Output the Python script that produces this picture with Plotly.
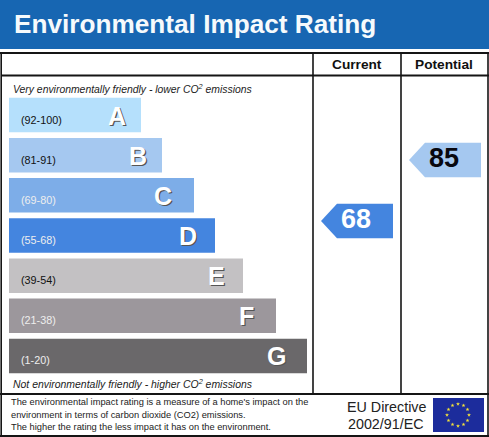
import plotly.graph_objects as go

# ---- data ----
bands = ["A", "B", "C", "D", "E", "F", "G"]
ranges = ["(92-100)", "(81-91)", "(69-80)", "(55-68)", "(39-54)", "(21-38)", "(1-20)"]
bar_lengths = [132, 153, 185, 206, 234, 267, 298]
columns = ["Current", "Potential"]
ratings = [68, 85]

# ---- styles ----
W, H = 489, 437
FONT = "Liberation Sans"
bar_colors = ["#B5E0FC", "#A5C8F0", "#7DADE8", "#4485DF", "#C3C1C3", "#9C979C", "#6A686A"]
range_colors = ["#111", "#111", "#EEE", "#EEE", "#111", "#EEE", "#EEE"]
letter_offsets = [24, 24, 31, 27, 27, 30, 31]
rating_colors = ["#4485DF", "#A5C8F0"]
rating_text = ["white", "#08080F"]
col_left = [321, 409]
ARROW_W, TIP = 72, 16
PX_PER_SCORE = 61 / 17
HALF = 17.3 / PX_PER_SCORE
SCORE_TOP = 85 + 160 / PX_PER_SCORE


def px(x, y):
    return x / W, 1 - y / H


def text(x, y, s, size, color="#111", anchor="left", **kw):
    fx, fy = px(x, y)
    return dict(x=fx, y=fy, xref="paper", yref="paper", text=s, showarrow=False,
                xanchor=anchor, yanchor="middle", align=anchor,
                font=dict(family=FONT, size=size, color=color), **kw)


fig = go.Figure()

fig.add_trace(go.Bar(
    y=bands, x=bar_lengths, orientation="h", marker=dict(color=bar_colors, line_width=0),
    xaxis="x", yaxis="y", hoverinfo="skip", showlegend=False))

# rating arrows on a score axis
for col, score, c, tc, left in zip(columns, ratings, rating_colors, rating_text, col_left):
    xs = [left, left + TIP, left + ARROW_W, left + ARROW_W, left + TIP, left]
    ys = [score, score + HALF, score + HALF, score - HALF, score - HALF, score]
    fig.add_trace(go.Scatter(x=xs, y=ys, mode="lines", fill="toself", fillcolor=c,
                             line=dict(width=0, color=c), xaxis="x2", yaxis="y2",
                             name=col, hoverinfo="skip", showlegend=False))
    fig.add_trace(go.Scatter(x=[left + 35], y=[score], mode="text",
                             text=[str(score)], textposition="middle center",
                             textfont=dict(family=FONT, size=27, color=tc, weight="bold"),
                             xaxis="x2", yaxis="y2", hoverinfo="skip", showlegend=False))

# EU flag stars
star_x = [458, 463.5, 467.5, 469, 467.5, 463.5, 458, 452.5, 448.5, 447, 448.5, 452.5]
star_y = [404, 405.5, 409.5, 415, 420.5, 424.5, 426, 424.5, 420.5, 415, 409.5, 405.5]
fig.add_trace(go.Scatter(x=star_x, y=[SCORE_TOP - s / PX_PER_SCORE for s in star_y], mode="markers",
                         marker=dict(symbol="star", size=3, color="#F4E23A", line_width=0),
                         xaxis="x2", yaxis="y2", hoverinfo="skip", showlegend=False))

shapes = []


def rect(x0, y0, x1, y1, color):
    a, b = px(x0, y0), px(x1, y1)
    shapes.append(dict(type="rect", xref="paper", yref="paper", x0=a[0], y0=a[1], x1=b[0], y1=b[1],
                       fillcolor=color, line_width=0, layer="below"))


def line(x0, y0, x1, y1, w=1.6, color="#151515"):
    a, b = px(x0, y0), px(x1, y1)
    shapes.append(dict(type="line", xref="paper", yref="paper", x0=a[0], y0=a[1], x1=b[0], y1=b[1],
                       line=dict(color=color, width=w), layer="below"))


rect(0, 0, 489, 49, "#1766B2")
rect(433, 398, 484, 432, "#1C2C9C")
line(0, 53, 489, 53, 2)
line(1.2, 53, 1.2, 437)
line(488, 53, 488, 437)
line(1, 75.5, 489, 75.5, 2)
line(313, 53, 313, 394)
line(401, 53, 401, 394)
line(0, 394, 489, 394, 2)
line(0, 436, 489, 436, 2)

ann = [
    text(12, 24.5, "<b>Environmental Impact Rating</b>", 26.2, "#F6FAFC"),
    text(356.5, 64.5, "<b>Current</b>", 13.7, anchor="center"),
    text(443.5, 64.5, "<b>Potential</b>", 13.7, anchor="center"),
    text(10.5, 88, "<i>Very environmentally friendly - lower CO<sup>2</sup> emissions</i>", 10.4, "#222"),
    text(10.5, 383.5, "<i>Not environmentally friendly - higher CO<sup>2</sup> emissions</i>", 10.45, "#222"),
    text(9, 402, "The environmental impact rating is a measure of a home's impact on the", 9.3, "#222"),
    text(9, 414.5, "environment in terms of carbon dioxide (CO2) emissions.", 9.3, "#222"),
    text(9, 426.5, "The higher the rating the less impact it has on the environment.", 9.3, "#222"),
    text(386, 407, "EU Directive", 14.3, "#222", anchor="center"),
    text(386, 424, "2002/91/EC", 14.3, "#222", anchor="center"),
]

# labels anchored to each bar
for b, r, length, rc, off in zip(bands, ranges, bar_lengths, range_colors, letter_offsets):
    ann.append(dict(x=10, y=b, xref="x", yref="y", text=r, showarrow=False, xanchor="left",
                    yshift=-4.5, font=dict(family=FONT, size=10.8, color=rc)))
    ann.append(dict(x=length - off, y=b, xref="x", yref="y", text=f"<b>{b}</b>", showarrow=False,
                    yshift=-0.5, font=dict(family=FONT, size=25, color="white",
                                           shadow="1.2px 1.2px 0.5px #555")))

fig.update_layout(
    width=W, height=H, margin=dict(l=0, r=0, t=0, b=0), paper_bgcolor="white", plot_bgcolor="rgba(0,0,0,0)",
    bargap=0.14, shapes=shapes, annotations=ann, showlegend=False,
    xaxis=dict(range=[-9, 480], domain=[0, 1], visible=False, fixedrange=True),
    yaxis=dict(categoryorder="array", categoryarray=bands, autorange=False, range=[6.5, -0.5],
               domain=[(H - 376) / H, (H - 95) / H], visible=False, fixedrange=True),
    xaxis2=dict(range=[0, W], overlaying="x", visible=False, fixedrange=True, anchor="y2"),
    yaxis2=dict(range=[85 - 277 / PX_PER_SCORE, SCORE_TOP], domain=[0, 1],
                visible=False, fixedrange=True, anchor="x2"),
)
fig.write_html("out.html", config={"displayModeBar": False},
               post_script="document.body.style.margin='0';document.documentElement.style.overflow='hidden';")
